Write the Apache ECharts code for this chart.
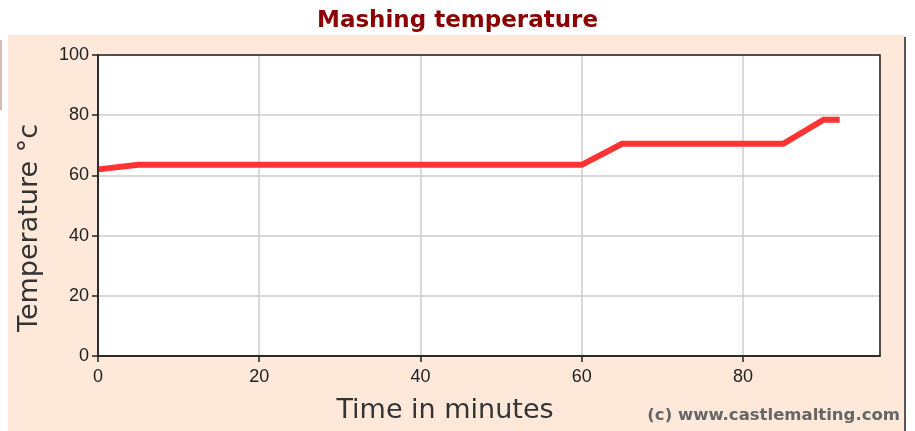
<!DOCTYPE html>
<html><head><meta charset="utf-8">
<script src="https://cdn.jsdelivr.net/npm/echarts@6/dist/echarts.min.js"></script>
<style>html,body{margin:0;padding:0;background:#fff}#c{width:915px;height:431px}</style>
</head><body><div id="c"></div>
<script>
var timeMinutes = [0, 5, 60, 65, 85, 90, 92];
var temperature = [62, 63.5, 63.5, 70.5, 70.5, 78.5, 78.5];
var xTicks = [0, 20, 40, 60, 80];
var yTicks = [0, 20, 40, 60, 80, 100];

var chart = echarts.init(document.getElementById('c'));
chart.setOption({
  animation: false,
  backgroundColor: '#ffffff',
  graphic: [
    { type: 'rect', z: -10, shape: { x: 8, y: 35, width: 897, height: 396 }, style: { fill: '#fde8da' } },
    { type: 'line', z: -9, shape: { x1: 905, y1: 37, x2: 905, y2: 431 }, style: { stroke: '#555', lineWidth: 2 } },
    { type: 'line', z: -9, shape: { x1: 1, y1: 40, x2: 1, y2: 110 }, style: { stroke: '#c9a5a5', lineWidth: 1.5 } },
    { type: 'rect', z: 100, silent: true, shape: { x: 98, y: 55, width: 782, height: 301 }, style: { fill: 'none', stroke: '#222', lineWidth: 1.5 } },
    { type: 'text', z: 50, x: 30, y: 228, rotation: Math.PI / 2, style: { text: 'Temperature \u00b0c', fill: '#333', font: '27px "DejaVu Sans", Verdana, sans-serif', textAlign: 'center', textVerticalAlign: 'middle' } },
    { type: 'text', z: 50, x: 445, y: 411, style: { text: 'Time in minutes', fill: '#333', font: '27px "DejaVu Sans", Verdana, sans-serif', textAlign: 'center', textVerticalAlign: 'middle' } },
    { type: 'text', z: 50, x: 900, y: 416, style: { text: '(c) www.castlemalting.com', fill: '#666', font: 'bold 16.5px "DejaVu Sans", Verdana, sans-serif', textAlign: 'right', textVerticalAlign: 'middle' } }
  ],
  title: {
    text: 'Mashing temperature', left: 'center', top: 5,
    textStyle: { color: '#8b0000', fontSize: 23, fontWeight: 'bold', fontFamily: '"DejaVu Sans", Verdana, sans-serif' }
  },
  grid: { left: 98, right: 35, top: 55, bottom: 75, show: true, backgroundColor: '#fff', borderWidth: 0 },
  xAxis: {
    type: 'value', min: 0, max: 97, interval: 20,
    axisLine: { show: true, lineStyle: { color: '#222', width: 1.5 } },
    axisTick: { show: true, length: 6, lineStyle: { color: '#222', width: 1.5 } },
    axisLabel: { showMaxLabel: false, color: '#222', fontSize: 18, fontFamily: '"Liberation Sans", Arial, sans-serif', margin: 12 },
    splitLine: { show: true, lineStyle: { color: '#cccccc', width: 1.5 } }
  },
  yAxis: {
    type: 'value', min: 0, max: 100, interval: 20,
    axisLine: { show: true, lineStyle: { color: '#222', width: 1.5 } },
    axisTick: { show: true, length: 6, lineStyle: { color: '#222', width: 1.5 } },
    axisLabel: { color: '#222', fontSize: 18, fontFamily: '"Liberation Sans", Arial, sans-serif', margin: 9 },
    splitLine: { show: true, lineStyle: { color: '#cccccc', width: 1.5 } }
  },
  series: [{
    type: 'line',
    data: timeMinutes.map(function (t, i) { return [t, temperature[i]]; }),
    showSymbol: false, symbol: 'none',
    lineStyle: { color: '#ff3333', width: 6, join: 'miter' },
    z: 5
  }]
});
</script></body></html>
